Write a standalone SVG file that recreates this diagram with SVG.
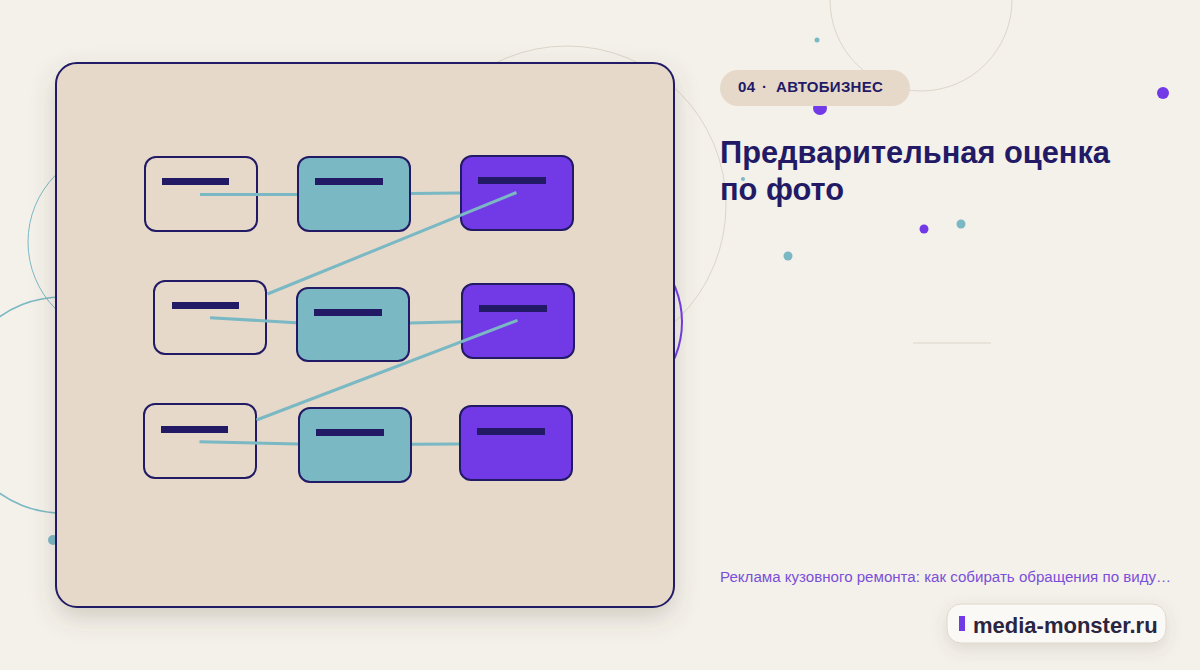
<svg xmlns="http://www.w3.org/2000/svg" width="1200" height="670" viewBox="0 0 1200 670">
<style>
.deco{fill:none;stroke:#ddd5c9;stroke-width:1}
.tealc{fill:none;stroke:#7ab8c4}
.box{stroke:#231a66;stroke-width:2}
.out{fill:none}
.tl{fill:#7ab8c4}
.pu{fill:#7239e6}
.bar{fill:#231a66}
.conn{stroke:#7ab8c4;stroke-width:3;fill:none;stroke-linecap:butt}
.t{font-family:"Liberation Sans",Arial,sans-serif}
</style>
<defs>
<filter id="sh" x="-20%" y="-20%" width="140%" height="150%">
<feDropShadow dx="0" dy="10" stdDeviation="12" flood-color="#5a4a3a" flood-opacity="0.22"/>
</filter>
<filter id="sh2" x="-20%" y="-40%" width="140%" height="200%">
<feDropShadow dx="0" dy="6" stdDeviation="8" flood-color="#5a4a3a" flood-opacity="0.15"/>
</filter>
</defs>
<rect width="1200" height="670" fill="#f4f1eb"/>
<g id="decor">
<circle class="deco" cx="921" cy="0" r="91"/>
<circle class="deco" cx="567" cy="205" r="159"/>
<circle class="tealc" cx="123" cy="242" r="95" stroke-width="1"/>
<circle class="tealc" cx="62" cy="405" r="108" stroke-width="1.6"/>
<circle cx="590" cy="322" r="92" fill="none" stroke="#7239e6" stroke-width="2"/>
<circle cx="53" cy="540" r="5" fill="#7ab8c4"/>
<circle cx="817" cy="40" r="2.5" fill="#7ab8c4"/>
<circle cx="820" cy="108" r="7" fill="#7239e6"/>
<circle cx="1163" cy="93" r="6" fill="#7239e6"/>
<circle cx="924" cy="229" r="4.5" fill="#7239e6"/>
<circle cx="961" cy="224" r="4.5" fill="#7ab8c4"/>
<circle cx="788" cy="256" r="4.5" fill="#7ab8c4"/>
<circle cx="743" cy="179" r="2" fill="#7ab8c4"/>
<line x1="913" y1="343" x2="991" y2="343" stroke="#ddd5c9" stroke-width="1"/>
</g>
<g id="panel">
<rect x="56" y="63" width="618" height="544" rx="21" fill="#e6d9c9" stroke="#231a66" stroke-width="2" filter="url(#sh)"/>
</g>
<g id="n1"><rect class="box out" x="145" y="157" width="112" height="74" rx="11"/><rect class="bar" x="162" y="178" width="67" height="7"/></g>
<g id="n2"><rect class="box tl" x="298" y="157" width="112" height="74" rx="11"/><rect class="bar" x="315" y="178" width="68" height="7"/></g>
<g id="n3"><rect class="box pu" x="461" y="156" width="112" height="74" rx="11"/><rect class="bar" x="478" y="177" width="68" height="7"/></g>
<g id="n4"><rect class="box out" x="154" y="281" width="112" height="73" rx="11"/><rect class="bar" x="172" y="302" width="67" height="7"/></g>
<g id="n5"><rect class="box tl" x="297" y="288" width="112" height="73" rx="11"/><rect class="bar" x="314" y="309" width="68" height="7"/></g>
<g id="n6"><rect class="box pu" x="462" y="284" width="112" height="74" rx="11"/><rect class="bar" x="479" y="305" width="68" height="7"/></g>
<g id="n7"><rect class="box out" x="144" y="404" width="112" height="74" rx="11"/><rect class="bar" x="161" y="426" width="67" height="7"/></g>
<g id="n8"><rect class="box tl" x="299" y="408" width="112" height="74" rx="11"/><rect class="bar" x="316" y="429" width="68" height="7"/></g>
<g id="n9"><rect class="box pu" x="460" y="406" width="112" height="74" rx="11"/><rect class="bar" x="477" y="428" width="68" height="7"/></g>
<g id="connectors" class="conn">
<line x1="200" y1="194.5" x2="297" y2="194.5"/>
<line x1="411" y1="193.5" x2="460" y2="193"/>
<line x1="516.5" y1="192.5" x2="267.5" y2="294"/>
<line x1="210" y1="317.7" x2="296" y2="322.7"/>
<line x1="410" y1="323" x2="461" y2="321.7"/>
<line x1="517.5" y1="320.3" x2="256.5" y2="420"/>
<line x1="199.5" y1="441.7" x2="298" y2="444"/>
<line x1="412" y1="444.3" x2="459" y2="444"/>
</g>
<g id="tag">
<rect x="720" y="70" width="190" height="36" rx="18" fill="#e6d9c9"/>
<text class="t" y="92" font-size="15" font-weight="bold" fill="#231a66" letter-spacing="0.3"><tspan x="738">04</tspan><tspan x="762">·</tspan><tspan x="776">АВТОБИЗНЕС</tspan></text>
</g>
<g id="title">
<text class="t" font-size="30.8" font-weight="bold" fill="#231a66"><tspan x="720" y="163">Предварительная оценка</tspan><tspan x="720" y="200">по фото</tspan></text>
</g>
<g id="subtitle">
<text class="t" x="720" y="582" font-size="15.1" fill="#7a4fd8">Реклама кузовного ремонта: как собирать обращения по виду…</text>
</g>
<g id="badge">
<rect x="947" y="604" width="219" height="39" rx="14" fill="#fbf9f6" stroke="#ddd5c9" stroke-width="1" filter="url(#sh2)"/>
<rect x="959" y="616" width="6" height="15" fill="#7239e6"/>
<text class="t" x="973" y="633" font-size="22" font-weight="bold" fill="#2a2540">media-monster.ru</text>
</g>
</svg>
